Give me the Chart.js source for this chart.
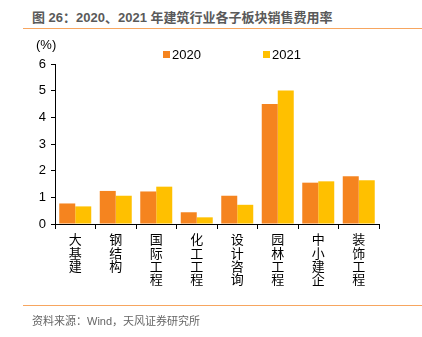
<!DOCTYPE html>
<html lang="zh">
<head>
<meta charset="UTF-8">
<title>建筑行业各子板块销售费用率</title>
<style>
    body {
        margin: 0;
        width: 422px;
        height: 337px;
        background: #fff;
        position: relative;
        overflow: hidden;
        font-family: 'Liberation Sans', 'Noto Sans CJK SC', sans-serif;
    }
    .title {
        position: absolute;
        left: 32px;
        top: 7px;
        font-size: 13px;
        font-weight: bold;
        color: #5a5a5a;
        white-space: nowrap;
    }
    .rule {
        position: absolute;
        left: 23px;
        right: 0;
        height: 1px;
        background: #f7a660;
    }
    .unit {
        position: absolute;
        left: 36px;
        top: 37px;
        font-size: 13px;
        color: #000;
    }
    .legend {
        position: absolute;
        top: 47px;
        font-size: 13px;
        color: #000;
        display: flex;
        align-items: center;
    }
    .legend i {
        display: inline-block;
        width: 7px;
        height: 7px;
        margin-right: 2px;
    }
    .source {
        position: absolute;
        left: 32px;
        top: 312px;
        font-size: 11px;
        color: #666;
    }
    #salesChart {
        position: absolute;
        left: 0;
        top: 0;
    }
</style>
</head>
<body>
    <div class="title">图 26：2020、2021 年建筑行业各子板块销售费用率</div>
    <div class="rule" style="top:28px"></div>
    <canvas id="salesChart" width="422" height="337"></canvas>
    <div class="unit">(%)</div>
    <div class="legend" style="left:163px"><i style="background:#f5841f"></i>2020</div>
    <div class="legend" style="left:263px"><i style="background:#ffc000"></i>2021</div>
    <div class="rule" style="top:305px"></div>
    <div class="source">资料来源：Wind，天风证券研究所</div>

    <script src="https://cdn.jsdelivr.net/npm/chart.js"></script>
    <script>
        const categories = ['大基建', '钢结构', '国际工程', '化工工程', '设计咨询', '园林工程', '中小建企', '装饰工程'];
        const rate2020 = [0.77, 1.24, 1.22, 0.44, 1.06, 4.50, 1.55, 1.79];
        const rate2021 = [0.66, 1.06, 1.40, 0.25, 0.72, 5.01, 1.60, 1.64];
        const yTicks = [0, 1, 2, 3, 4, 5, 6];

        const fontFamily = "'Liberation Sans', 'Noto Sans CJK SC', sans-serif";

        // vertical category labels: one character per line
        const labels = categories.map(c => c.split(''));

        new Chart(document.getElementById('salesChart'), {
            type: 'bar',
            data: {
                labels: labels,
                datasets: [
                    { label: '2020', data: rate2020, backgroundColor: '#f5841f' },
                    { label: '2021', data: rate2021, backgroundColor: '#ffc000' }
                ]
            },
            options: {
                responsive: false,
                animation: false,
                devicePixelRatio: 1,
                datasets: {
                    bar: { categoryPercentage: 0.79, barPercentage: 1.0 }
                },
                layout: {
                    padding: { left: 0, right: 43, top: 64, bottom: 33 }
                },
                plugins: {
                    legend: { display: false },
                    tooltip: { enabled: false }
                },
                scales: {
                    x: {
                        afterFit: scale => { scale.height = 80; },
                        grid: {
                            offset: true,
                            drawOnChartArea: false,
                            drawTicks: true,
                            tickLength: 5,
                            color: '#000'
                        },
                        border: { color: '#000', width: 1 },
                        ticks: {
                            color: '#000',
                            padding: 5,
                            maxRotation: 0,
                            autoSkip: false,
                            font: { family: fontFamily, size: 13, lineHeight: 1.03 }
                        }
                    },
                    y: {
                        min: 0,
                        max: 6,
                        afterFit: scale => { scale.width = 55; },
                        afterBuildTicks: scale => {
                            scale.ticks = yTicks.map(v => ({ value: v }));
                        },
                        grid: {
                            drawOnChartArea: false,
                            drawTicks: true,
                            tickLength: 4,
                            color: '#000'
                        },
                        border: { color: '#000', width: 1 },
                        ticks: {
                            color: '#000',
                            padding: 5,
                            font: { family: fontFamily, size: 13 }
                        }
                    }
                }
            }
        });
    </script>
</body>
</html>
